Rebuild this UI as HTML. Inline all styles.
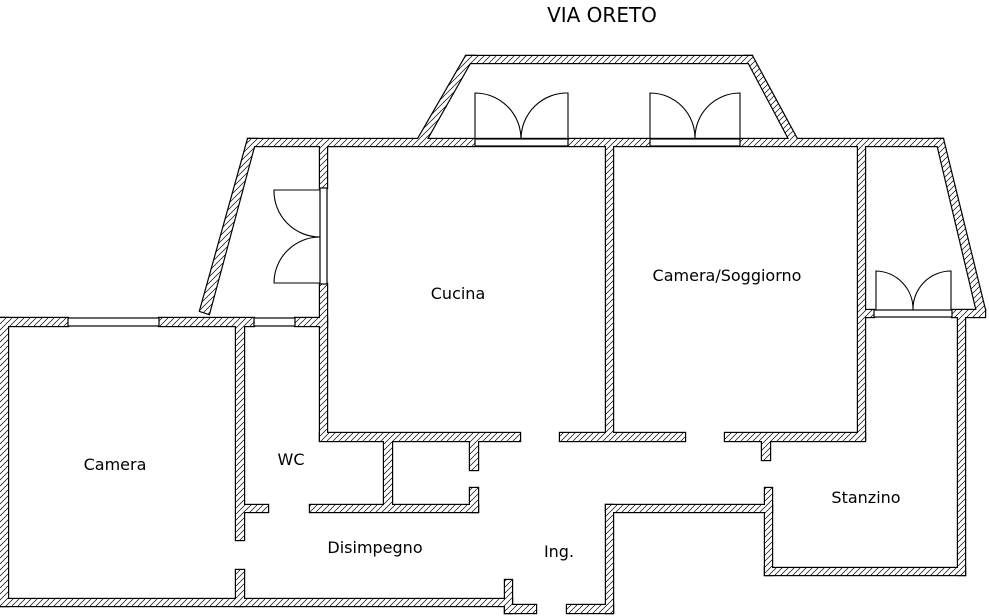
<!DOCTYPE html>
<html><head><meta charset="utf-8"><style>html,body{margin:0;padding:0;background:#fff}svg{display:block}</style></head>
<body>
<svg width="989" height="616" viewBox="0 0 989 616" xmlns="http://www.w3.org/2000/svg" font-family="DejaVu Sans, sans-serif">
<defs>
<pattern id="h" width="6" height="6" patternUnits="userSpaceOnUse">
<rect width="6" height="6" fill="#fff"/>
<path d="M-1,7 L7,-1 M-1,1 L1,-1 M5,7 L7,5" stroke="#000" stroke-width="0.7"/>
</pattern>
<g id="w">
<rect x="248" y="139" width="695" height="7"/>
<rect x="466" y="56" width="286" height="7"/>
<polygon points="466,56 474,56 427,139 418,139"/>
<polygon points="745,56 752,56 797,139 789,139"/>
<polygon points="248,139 256,139 209,314 200,311"/>
<polygon points="936,139 943,139 985,310 977,312"/>
<rect x="320" y="146" width="7" height="42"/>
<rect x="320" y="284" width="7" height="156"/>
<rect x="606" y="146" width="7" height="294"/>
<rect x="858" y="146" width="7" height="294"/>
<rect x="865" y="310" width="9" height="7"/>
<rect x="952" y="310" width="33" height="7"/>
<rect x="958" y="317" width="7" height="258"/>
<rect x="765" y="568" width="200" height="7"/>
<rect x="765" y="488" width="7" height="87"/>
<rect x="606" y="505" width="166" height="7"/>
<rect x="606" y="505" width="7" height="108"/>
<rect x="567" y="605" width="46" height="8"/>
<rect x="505" y="580" width="7" height="33"/>
<rect x="505" y="605" width="31" height="8"/>
<rect x="0" y="599" width="512" height="7"/>
<rect x="0" y="318" width="8" height="288"/>
<rect x="0" y="318" width="68" height="8"/>
<rect x="159" y="318" width="95" height="8"/>
<rect x="295" y="318" width="32" height="8"/>
<rect x="236" y="326" width="8" height="214"/>
<rect x="236" y="570" width="8" height="36"/>
<rect x="244" y="505" width="24" height="7"/>
<rect x="320" y="433" width="200" height="8"/>
<rect x="560" y="433" width="125" height="8"/>
<rect x="725" y="433" width="140" height="8"/>
<rect x="384" y="441" width="8" height="64"/>
<rect x="310" y="505" width="168" height="7"/>
<rect x="470" y="488" width="8" height="24"/>
<rect x="470" y="441" width="8" height="29"/>
<rect x="762" y="441" width="8" height="19"/>
</g>
</defs>
<use href="#w" fill="none" stroke="#000" stroke-width="2.4"/>
<use href="#w" fill="url(#h)" stroke="none"/>
<g fill="#fff" stroke="#000" stroke-width="1.2">
<rect x="475" y="139" width="93" height="7"/>
<rect x="650" y="139" width="90" height="7"/>
<rect x="320" y="188" width="7" height="96"/>
<rect x="874" y="310" width="78" height="7"/>
<rect x="68" y="318" width="91" height="8"/>
<rect x="254" y="318" width="41" height="8"/>
</g>
<g fill="none" stroke="#000" stroke-width="1.1">
<path d="M475,139 V93 A46,46 0 0 1 521,139 A46,46 0 0 1 568,93 V139"/>
<path d="M650,139 V93 A45,45 0 0 1 695,139 A45,45 0 0 1 740,93 V139"/>
<path d="M320,190 H274 A46,46 0 0 0 320,237 A46,46 0 0 0 274,283 H320"/>
<path d="M876,310 V271 A38,38 0 0 1 913,310 A38,38 0 0 1 951,271 V310"/>
</g>
<g font-size="16" fill="#000" text-anchor="middle">
<text x="602" y="22" font-size="20">VIA ORETO</text>
<text x="458" y="299">Cucina</text>
<text x="727" y="281">Camera/Soggiorno</text>
<text x="115" y="470">Camera</text>
<text x="291" y="465">WC</text>
<text x="375" y="553">Disimpegno</text>
<text x="559" y="557">Ing.</text>
<text x="866" y="503">Stanzino</text>
</g>
</svg>
</body></html>
